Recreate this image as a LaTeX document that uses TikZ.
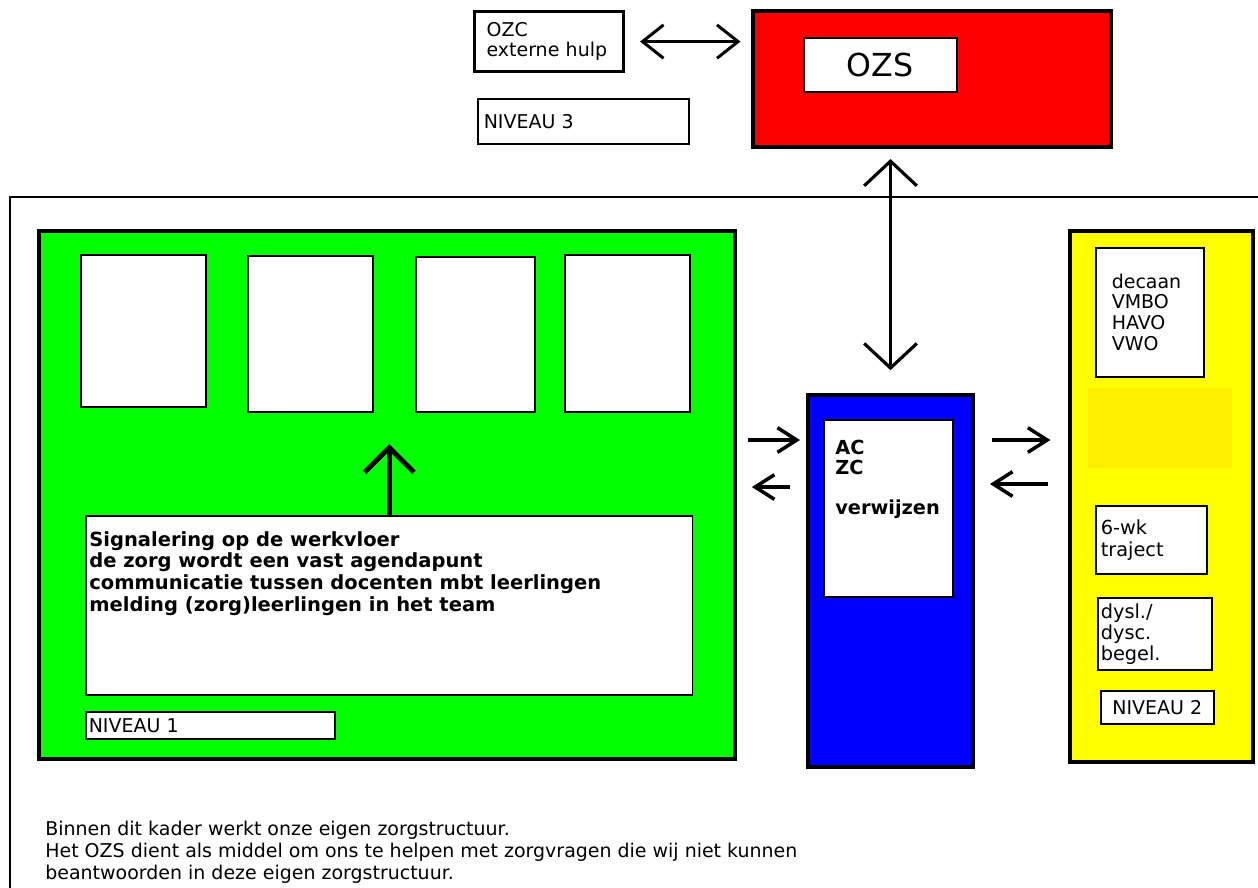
\documentclass[tikz,border=0pt]{standalone}
\usepackage{fontspec}
\setmainfont{DejaVu Sans}
\usepackage{xcolor}
\usepackage{tikz}
\usetikzlibrary{arrows.meta, positioning}
\definecolor{groen}{RGB}{0,255,0}
\definecolor{rood}{RGB}{255,0,0}
\definecolor{blauw}{RGB}{0,0,255}
\definecolor{geel}{RGB}{255,255,0}
\definecolor{geelvlek}{RGB}{255,238,0}
\tikzstyle{kader} = [rectangle, anchor=north west, draw=black, line width=2.3pt]
\tikzstyle{vak} = [rectangle, anchor=north west, draw=black, line width=0.9pt, fill=white, inner xsep=0pt, align=left, font=\fontsize{10.8}{11.6}\selectfont]
\tikzstyle{tekst} = [anchor=north west, inner sep=0pt, align=left]
\tikzstyle{arrow} = [line width=2pt, -{Straight Barb[length=11pt,width=14pt]}]
\tikzstyle{dubbel} = [line width=1.7pt, {Straight Barb[length=12pt,width=19pt]}-{Straight Barb[length=12pt,width=19pt]}]
\tikzstyle{groot} = [line width=1.8pt, {Straight Barb[length=14pt,width=30pt]}-{Straight Barb[length=14pt,width=30pt]}]
\tikzstyle{omhoog} = [line width=2.8pt, -{Straight Barb[length=14pt,width=28pt]}]

\begin{document}
\begin{tikzpicture}[x=0.02cm, y=-0.02cm]
    \useasboundingbox (0,0) rectangle (1258,887);
    \clip (0,0) rectangle (1258,887);
    % buitenkader
    \draw[line width=0.6pt] (10,197) rectangle (1290,910);

    % niveau 3
    \node[vak, line width=1.8pt, minimum width=2.98cm, minimum height=1.2cm, text width=2.5cm] (ozc) at (473,10) {OZC\\externe hulp};
    \node[vak, minimum width=4.22cm, minimum height=0.9cm, text width=3.98cm] (niveau3) at (477,98) {NIVEAU 3};
    \node[kader, fill=rood, minimum width=7.16cm, minimum height=2.72cm] (ozs) at (751,9) {};
    \node[vak, minimum width=3.06cm, minimum height=1.08cm, align=center, font=\fontsize{18}{20}\selectfont] (ozslabel) at (803,37) {OZS};

    % niveau 1
    \node[kader, fill=groen, minimum width=13.92cm, minimum height=10.56cm] (green) at (37,229) {};
    \node[vak, minimum width=2.5cm, minimum height=3.04cm] (b1) at (80,254) {};
    \node[vak, minimum width=2.5cm, minimum height=3.12cm] (b2) at (247,255) {};
    \node[vak, minimum width=2.38cm, minimum height=3.1cm] (b3) at (415,256) {};
    \node[vak, minimum width=2.5cm, minimum height=3.14cm] (b4) at (564,254) {};
    \node[vak, minimum width=12.14cm, minimum height=3.58cm] (signal) at (85,515) {};
    \node[tekst, font=\bfseries\fontsize{11.1}{12.3}\selectfont] (signaltekst) at (89,531) {Signalering op de werkvloer\\de zorg wordt een vast agendapunt\\communicatie tussen docenten mbt leerlingen\\melding (zorg)leerlingen in het team};
    \node[vak, minimum width=4.98cm, minimum height=0.54cm, text width=4.86cm] (niveau1) at (85,711) {NIVEAU 1};

    % AC / ZC
    \node[kader, fill=blauw, minimum width=3.3cm, minimum height=7.44cm] (blue) at (806,393) {};
    \node[vak, minimum width=2.58cm, minimum height=3.54cm] (acbox) at (823,419) {};
    \node[tekst, font=\bfseries\fontsize{11}{11.3}\selectfont] (actekst) at (835,440) {AC\\ZC\\ \\verwijzen};

    % niveau 2
    \node[kader, fill=geel, minimum width=3.66cm, minimum height=10.62cm] (yellow) at (1068,229) {};
    \fill[geelvlek] (1088,388) rectangle (1232,468);
    \node[vak, minimum width=2.16cm, minimum height=2.58cm, text width=1.52cm, font=\fontsize{10.8}{11.9}\selectfont] (decaan) at (1095,247) {decaan\\VMBO\\HAVO\\VWO};
    \node[vak, minimum width=2.22cm, minimum height=1.36cm, text width=2.02cm, font=\fontsize{11}{12.5}\selectfont] (traject) at (1095,505) {6-wk\\traject};
    \node[vak, minimum width=2.28cm, minimum height=1.42cm, text width=2.16cm, font=\fontsize{11}{11.9}\selectfont] (dysl) at (1097,597) {dysl./\\dysc.\\begel.};
    \node[vak, minimum width=2.26cm, minimum height=0.66cm, align=center] (niveau2) at (1100,690) {NIVEAU 2};

    \node[tekst, font=\fontsize{10.8}{12.5}\selectfont] (uitleg) at (45,821) {Binnen dit kader werkt onze eigen zorgstructuur.\\Het OZS dient als middel om ons te helpen met zorgvragen die wij niet kunnen\\beantwoorden in deze eigen zorgstructuur.};

    \draw[dubbel, shorten <=8.5pt, shorten >=6pt] (ozc.east) -- (ozc.east -| ozs.west);
    \draw[groot, shorten <=13pt, shorten >=5.7pt] (blue.north) -- (blue.north |- ozs.south);
    \draw[omhoog, shorten >=18pt] (signal.north) -- (signal.north |- b3.south);
    \draw[arrow, shorten <=6.2pt, shorten >=3.4pt] (green.east |- 0,440) -- (blue.west |- 0,440);
    \draw[arrow, shorten <=9pt, shorten >=8.5pt] (blue.west |- 0,487) -- (green.east |- 0,487);
    \draw[arrow, shorten <=9.6pt, shorten >=10pt] (blue.east |- 0,440) -- (yellow.west |- 0,440);
    \draw[arrow, shorten <=11.3pt, shorten >=8.5pt] (yellow.west |- 0,484) -- (blue.east |- 0,484);
\end{tikzpicture}
\end{document}
